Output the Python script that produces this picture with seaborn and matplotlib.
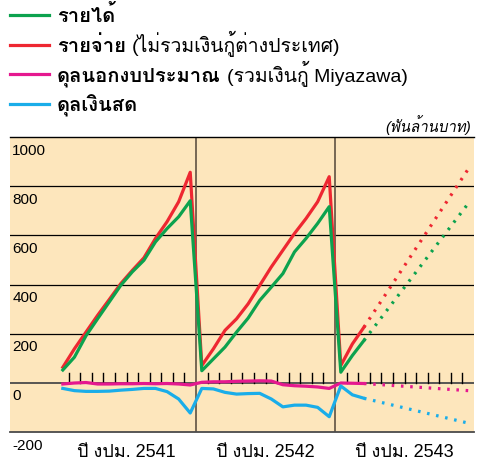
import numpy as np
import pandas as pd
import matplotlib
matplotlib.use("Agg")
import matplotlib.pyplot as plt
from matplotlib.lines import Line2D
import matplotlib.transforms as mtransforms
import seaborn as sns

FAM = ['Liberation Sans', 'Loma']
plt.rcParams['font.family'] = FAM

# monthly values (thousand million baht), 3 fiscal years x 12 months
revenue = [53, 105, 192, 261, 329, 397, 452, 499, 574, 628, 676, 741,
           50, 98, 146, 207, 264, 336, 390, 445, 533, 588, 649, 717,
           44, 112, 173]
expenditure = [64, 139, 207, 275, 339, 404, 458, 509, 588, 656, 737, 857,
               71, 139, 214, 261, 322, 397, 472, 540, 608, 669, 737, 839,
               71, 159, 227]
off_budget = [-4, 0, 2, -4, -4, -3, -3, -2, -3, -2, -4, -8,
              3, 5, 5, 7, 8, 9, 8, -7, -11, -13, -16, -22,
              0, -1, -2]
cash = [-22, -31, -34, -34, -33, -29, -26, -22, -22, -35, -65, -122,
        -22, -24, -38, -45, -43, -42, -65, -97, -90, -90, -99, -137,
        -12, -48, -62]

# projections: last actual month -> end of fiscal 2543
proj_revenue = [173, 730]
proj_expenditure = [227, 870]
proj_off_budget = [-2, -31]
proj_cash = [-62, -163]

series_names = ['รายได้', 'รายจ่าย', 'ดุลนอกงบประมาณ', 'ดุลเงินสด']
series_notes = ['', '(ไม่รวมเงินกู้ต่างประเทศ)', '(รวมเงินกู้ Miyazawa)', '']
colors = ['#0ca24e', '#ee2731', '#e5188f', '#1aade9']
year_labels = ['ปี งปม. 2541', 'ปี งปม. 2542', 'ปี งปม. 2543']
yticks = [1000, 800, 600, 400, 200, 0, -200]

months = np.arange(len(revenue)) + 0.5
proj_x = [len(revenue) - 0.5, 35.5]

fig = plt.figure(figsize=(4.8, 4.64), dpi=100)
ax = fig.add_axes([10 / 480, (464 - 433.2) / 464, 464 / 480, (433.2 - 138.1) / 464])
ax.set_facecolor('#fde6bc')
ax.set_xlim(-4.06, 36.0)
ax.set_ylim(-200, 1000)

for v in [200, 400, 600, 800]:
    ax.axhline(v, color='black', lw=0.9, zorder=1)
ax.axhline(0, color='#4a4a4a', lw=1.3, zorder=1)
for m in [12, 24]:
    ax.axvline(m, color='#6b5d4c', lw=1.3, zorder=1)
# month ticks on the zero line
for m in range(1, 36):
    if m % 12:
        ax.plot([m, m], [0, 40], color='black', lw=1.0, zorder=1)

actual = [revenue, expenditure, off_budget, cash]
proj = [proj_revenue, proj_expenditure, proj_off_budget, proj_cash]
order = [1, 0, 2, 3]
for i in order:
    sns.lineplot(x=months, y=actual[i], color=colors[i], lw=2.3, ax=ax, zorder=3)
    sns.lineplot(x=proj_x, y=proj[i], color=colors[i], lw=2.3, ax=ax, zorder=3,
                 linestyle=(0, (0.8, 2.1)))

for s in ['left', 'right']:
    ax.spines[s].set_visible(False)
ax.spines['top'].set_color('black')
ax.spines['bottom'].set_color('#4a4a4a')
ax.spines['top'].set_linewidth(1.0)
ax.spines['bottom'].set_linewidth(1.3)
ax.set_xticks([])
ax.set_yticks([])
ax.set_xlabel('')
ax.set_ylabel('')

trans = mtransforms.blended_transform_factory(ax.transAxes, ax.transData)
for v in yticks:
    ax.text(0.005, v - 22, str(v), transform=trans, ha='left', va='top', fontsize=11)
for k, lab in enumerate(year_labels):
    ax.text(6 + 12 * k, -296, lab, ha='center', va='baseline', fontsize=13, clip_on=False)

fig.text(471 / 480, 1 - 125 / 464, '(พันล้านบาท)', ha='right', va='center',
         fontsize=10.8, style='italic')

# legend
renderer = fig.canvas.get_renderer()
for i in range(4):
    base = 22.5 + 29.7 * i
    yl = 1 - (base - 6.5) / 464
    fig.add_artist(Line2D([10 / 480, 49 / 480], [yl, yl], color=colors[i], lw=2.3))
    t = fig.text(57 / 480, 1 - base / 464, series_names[i], fontsize=14.5,
                 fontweight='bold', va='baseline')
    if series_notes[i]:
        bb = t.get_window_extent(renderer)
        fig.text((bb.x1 + 6) / 480, 1 - base / 464, series_notes[i], fontsize=14,
                 va='baseline')

fig.savefig('out.png', dpi=100)
